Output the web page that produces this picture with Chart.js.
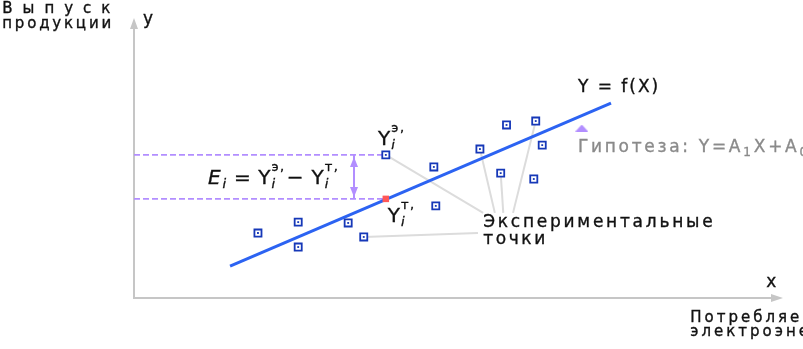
<!DOCTYPE html>
<html lang="ru">
<head>
<meta charset="utf-8">
<title>Метод наименьших квадратов</title>
<script src="https://cdn.jsdelivr.net/npm/chart.js@4.4.0/dist/chart.umd.min.js"></script>
<style>
  html, body { margin: 0; padding: 0; background: #fff; }
  #wrap { width: 803px; height: 349px; }
</style>
</head>
<body>
<div id="wrap"><canvas id="chart" width="803" height="349"></canvas></div>
<script>
// Экспериментальные точки (X - электроэнергия, Y - выпуск продукции), усл. единицы 0..100
const expX = [19.1, 25.3, 25.3, 33.0, 35.4, 38.8, 46.2, 46.5, 53.3, 56.5, 57.4, 61.9, 62.9, 61.6];
const expY = [23.2, 27.1, 18.2, 26.8, 21.8, 51.1, 46.8, 32.9, 53.2, 44.6, 61.8, 63.2, 54.6, 42.5];

// Прямая Y = f(X)
const fitX = [14.8, 73.5];
const fitY = [11.4, 69.6];

// Точка i: экспериментальное (индекс) и теоретическое значение
const pointI = 5;
const theoryX = 38.8;
const theoryY = 35.4;

// Выноски: от точек к подписи "Экспериментальные точки"
const leaderFrom = [5, 8, 9, 11, 4];
const leaderToX = [53.8, 55.6, 56.9, 58.4, 53.0];
const leaderToY = [30.4, 30.4, 30.4, 30.4, 23.2];

// Отрезок E_i и маркер гипотезы
const errX = 33.9;
const hypX = [69.0];
const hypY = [60.7];

const FONT = '"DejaVu Sans", "Liberation Sans", sans-serif';
const INK = '#111111';
const PURPLE = '#b28eff';
const BLUE_PT = '#1638b8';

// Подписи (позиции в единицах осей)
const textLabels = [
    { text: 'Выпуск', x: -20.3, y: 103.3, sp: 10, size: 15 },
    { text: 'продукции', x: -20.3, y: 97.9, sp: 2.8, size: 15 },
    { text: 'y', x: 1.4, y: 99.3, sp: 0, size: 17 },
    { text: 'Y = f(X)', x: 68.4, y: 75.0, sp: 2, size: 17 },
    { text: 'Экспериментальные', x: 53.8, y: 27.1, sp: 2.75, size: 17 },
    { text: 'точки', x: 53.8, y: 20.7, sp: 2.6, size: 17 },
    { text: 'x', x: 97.4, y: 5.4, sp: 0, size: 17 },
    { text: 'Потребляемая', x: 85.7, y: -7.3, sp: 3, size: 15 },
    { text: 'электроэнергия', x: 85.7, y: -12.1, sp: 3, size: 15 }
];

// Посимвольный вывод с разрядкой и лёгким утолщением штриха
function drawSpaced(ctx, text, x, y, sp) {
    for (const ch of text) {
        ctx.fillText(ch, x, y);
        ctx.strokeText(ch, x, y);
        x += ctx.measureText(ch).width + sp;
    }
    return x;
}

// Текст с индексами: {t, f} - обычный кусок, {sub, sup} - индексы друг над другом
function drawRich(ctx, parts, x, y) {
    parts.forEach(p => {
        if (p.t !== undefined) {
            ctx.font = p.f;
            x = drawSpaced(ctx, p.t, x, y, p.sp || 0) + (p.after || 0);
        } else {
            ctx.font = 'italic 13px ' + FONT;
            const w1 = p.sub ? drawSpaced(ctx, p.sub, x + 1, y + 4, 0) : x;
            ctx.font = '13px ' + FONT;
            const w2 = p.sup ? drawSpaced(ctx, p.sup, x + 1, y - 13, 1.5) : x;
            x = Math.max(w1, w2) + 1;
        }
    });
    return x;
}

const yBase = '20px ' + FONT;
const yIdx = (sup) => [{ t: 'Y', f: yBase }, { sub: 'i', sup: sup }];

// Оси со стрелками
const axesPlugin = {
    id: 'axes',
    beforeDatasetsDraw(chart) {
        const { ctx, chartArea: a } = chart;
        ctx.save();
        ctx.strokeStyle = '#c6c6c6';
        ctx.fillStyle = '#c6c6c6';
        ctx.lineWidth = 2;
        ctx.beginPath();
        ctx.moveTo(a.left, a.top + 8);
        ctx.lineTo(a.left, a.bottom);
        ctx.lineTo(a.right - 8, a.bottom);
        ctx.stroke();
        ctx.beginPath();
        ctx.moveTo(a.left, a.top);
        ctx.lineTo(a.left + 4, a.top + 11);
        ctx.lineTo(a.left - 4, a.top + 11);
        ctx.closePath();
        ctx.moveTo(a.right, a.bottom);
        ctx.lineTo(a.right - 12, a.bottom - 4);
        ctx.lineTo(a.right - 12, a.bottom + 4);
        ctx.closePath();
        ctx.fill();
        ctx.restore();
    }
};

// Подписи, формула и стрелки отрезка E_i
const textPlugin = {
    id: 'texts',
    afterDatasetsDraw(chart) {
        const { ctx, scales } = chart;
        const px = v => scales.x.getPixelForValue(v);
        const py = v => scales.y.getPixelForValue(v);
        ctx.save();

        // стрелки на концах E_i
        const meta = chart.getDatasetMeta(chart.data.datasets.findIndex(d => d.label === 'E_i'));
        const [top, bot] = meta.data;
        ctx.fillStyle = PURPLE;
        ctx.beginPath();
        ctx.moveTo(top.x, top.y + 2);
        ctx.lineTo(top.x + 4, top.y + 12);
        ctx.lineTo(top.x - 4, top.y + 12);
        ctx.closePath();
        ctx.moveTo(bot.x, bot.y - 2);
        ctx.lineTo(bot.x + 4, bot.y - 12);
        ctx.lineTo(bot.x - 4, bot.y - 12);
        ctx.closePath();
        ctx.fill();

        ctx.fillStyle = INK;
        ctx.strokeStyle = INK;
        ctx.lineWidth = 0.35;
        ctx.textBaseline = 'middle';
        textLabels.forEach(l => {
            ctx.font = l.size + 'px ' + FONT;
            drawSpaced(ctx, l.text, px(l.x), py(l.y), l.sp);
        });

        // гипотеза (серым)
        const hy = py(53.6);
        ctx.fillStyle = '#8a8a8a';
        ctx.strokeStyle = '#8a8a8a';
        ctx.font = '17px ' + FONT;
        let x = drawSpaced(ctx, 'Гипотеза: Y=A', px(68.4), hy, 2.7);
        ctx.font = '12px ' + FONT;
        x = drawSpaced(ctx, '1', x, hy + 5, 1);
        ctx.font = '17px ' + FONT;
        x = drawSpaced(ctx, 'X+A', x + 2, hy, 2.7);
        ctx.font = '12px ' + FONT;
        drawSpaced(ctx, '0', x, hy + 5, 1);

        ctx.fillStyle = INK;
        ctx.strokeStyle = INK;
        ctx.textBaseline = 'alphabetic';
        drawRich(ctx, yIdx('э,'), px(37.6), py(54.6));
        drawRich(ctx, yIdx('т,'), px(39.1), py(27.0));
        drawRich(ctx, [
            { t: 'E', f: 'italic 20px ' + FONT, after: 1 },
            { sub: 'i' },
            { t: ' = ', f: '20px ' + FONT, sp: 0.5 },
            ...yIdx('э,'),
            { t: '−', f: '20px ' + FONT, after: 8 },
            ...yIdx('т,')
        ], px(11.4), py(40.6));
        ctx.restore();
    }
};

// Маркер гипотезы - плоский треугольник
const triMark = document.createElement('canvas');
triMark.width = 13;
triMark.height = 7;
const tc = triMark.getContext('2d');
tc.fillStyle = PURPLE;
tc.beginPath();
tc.moveTo(6.5, 0);
tc.lineTo(13, 7);
tc.lineTo(0, 7);
tc.closePath();
tc.fill();

const expPoints = expX.map((x, i) => ({ x: x, y: expY[i] }));

const leaders = leaderFrom.map((idx, k) => ({
    label: 'leader' + k,
    data: [{ x: expX[idx], y: expY[idx] }, { x: leaderToX[k], y: leaderToY[k] }],
    showLine: true,
    borderColor: '#dcdcdc',
    borderWidth: 2,
    pointRadius: 0,
    order: 10
}));

const datasets = [
    ...leaders,
    {
        label: 'dashE',
        data: [{ x: 0, y: expY[pointI] }, { x: expX[pointI], y: expY[pointI] }],
        showLine: true, borderColor: PURPLE, borderWidth: 1.6, borderDash: [6, 3],
        pointRadius: 0, order: 8
    },
    {
        label: 'dashT',
        data: [{ x: 0, y: theoryY }, { x: theoryX, y: theoryY }],
        showLine: true, borderColor: PURPLE, borderWidth: 1.6, borderDash: [6, 3],
        pointRadius: 0, order: 8
    },
    {
        label: 'E_i',
        data: [{ x: errX, y: expY[pointI] }, { x: errX, y: theoryY }],
        showLine: true, borderColor: PURPLE, borderWidth: 2,
        pointRadius: 0, order: 7
    },
    {
        label: 'Y = f(X)',
        data: fitX.map((x, i) => ({ x: x, y: fitY[i] })),
        showLine: true, borderColor: '#2c63f2', borderWidth: 3,
        pointRadius: 0, order: 6
    },
    {
        label: 'Экспериментальные точки',
        data: expPoints,
        pointStyle: 'rect', pointRadius: 5,
        backgroundColor: '#ffffff', borderColor: BLUE_PT, borderWidth: 1.8,
        order: 4
    },
    {
        label: 'centres',
        data: expPoints,
        pointStyle: 'rect', pointRadius: 1.3,
        backgroundColor: BLUE_PT, borderWidth: 0,
        order: 3
    },
    {
        label: 'Y теор.',
        data: [{ x: theoryX, y: theoryY }],
        pointStyle: 'rect', pointRadius: 4.6,
        backgroundColor: '#ff5757', borderWidth: 0,
        order: 2
    },
    {
        label: 'Гипотеза',
        data: hypX.map((x, i) => ({ x: x, y: hypY[i] })),
        pointStyle: triMark, pointRadius: 6,
        order: 1
    }
];

new Chart(document.getElementById('chart'), {
    type: 'scatter',
    data: { datasets: datasets },
    options: {
        responsive: false,
        animation: false,
        events: [],
        layout: { padding: { left: 134, right: 20, top: 18, bottom: 51 } },
        plugins: {
            legend: { display: false },
            tooltip: { enabled: false }
        },
        scales: {
            x: { type: 'linear', min: 0, max: 100, display: false },
            y: { type: 'linear', min: 0, max: 100, display: false }
        }
    },
    plugins: [axesPlugin, textPlugin]
});
</script>
</body>
</html>
